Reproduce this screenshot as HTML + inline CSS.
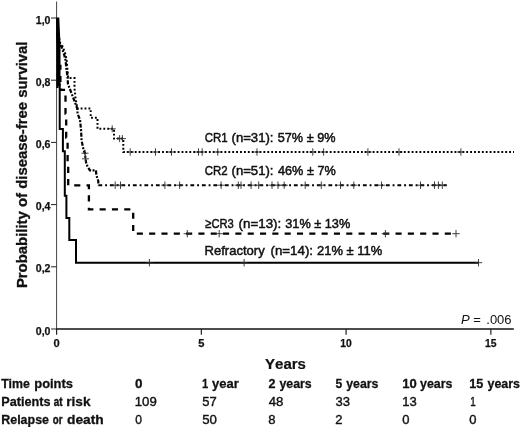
<!DOCTYPE html>
<html><head><meta charset="utf-8"><title>DFS</title>
<style>
html,body{margin:0;padding:0;background:#fff;}
body{width:520px;height:427px;overflow:hidden;font-family:"Liberation Sans",sans-serif;}
svg{display:block;will-change:transform;}
text{font-family:"Liberation Sans",sans-serif;fill:#111;}
.b{font-weight:bold;}
</style></head><body>
<svg width="520" height="427" viewBox="0 0 520 427">
<rect width="520" height="427" fill="#fff"/>

<path d="M56.6 1.5V329" stroke="#444" stroke-width="1" fill="none"/>
<path d="M56.1 329H513.8" stroke="#111" stroke-width="1.4" fill="none"/>
<path d="M51 329.0H56.6" stroke="#222" stroke-width="1"/>
<text class="b" x="50.5" y="334.5" font-size="11.1" text-anchor="end" textLength="14.7" lengthAdjust="spacingAndGlyphs" stroke="#111" stroke-width="0.25">0,0</text>
<path d="M51 266.8H56.6" stroke="#222" stroke-width="1"/>
<text class="b" x="50.5" y="272.3" font-size="11.1" text-anchor="end" textLength="14.7" lengthAdjust="spacingAndGlyphs" stroke="#111" stroke-width="0.25">0,2</text>
<path d="M51 204.6H56.6" stroke="#222" stroke-width="1"/>
<text class="b" x="50.5" y="210.1" font-size="11.1" text-anchor="end" textLength="14.7" lengthAdjust="spacingAndGlyphs" stroke="#111" stroke-width="0.25">0,4</text>
<path d="M51 142.4H56.6" stroke="#222" stroke-width="1"/>
<text class="b" x="50.5" y="147.9" font-size="11.1" text-anchor="end" textLength="14.7" lengthAdjust="spacingAndGlyphs" stroke="#111" stroke-width="0.25">0,6</text>
<path d="M51 80.2H56.6" stroke="#222" stroke-width="1"/>
<text class="b" x="50.5" y="85.7" font-size="11.1" text-anchor="end" textLength="14.7" lengthAdjust="spacingAndGlyphs" stroke="#111" stroke-width="0.25">0,8</text>
<path d="M51 18.0H56.6" stroke="#222" stroke-width="1"/>
<text class="b" x="50.5" y="23.5" font-size="11.1" text-anchor="end" textLength="14.7" lengthAdjust="spacingAndGlyphs" stroke="#111" stroke-width="0.25">1,0</text>
<path d="M56.6 329V334.8" stroke="#222" stroke-width="1.2"/>
<text class="b" x="56.6" y="347.3" font-size="11.1" text-anchor="middle" stroke="#111" stroke-width="0.25">0</text>
<path d="M201.35 329V334.8" stroke="#222" stroke-width="1.2"/>
<text class="b" x="201.35" y="347.3" font-size="11.1" text-anchor="middle" stroke="#111" stroke-width="0.25">5</text>
<path d="M346.1 329V334.8" stroke="#222" stroke-width="1.2"/>
<text class="b" x="346.1" y="347.3" font-size="11.1" text-anchor="middle" textLength="11.5" lengthAdjust="spacingAndGlyphs" stroke="#111" stroke-width="0.25">10</text>
<path d="M490.85 329V334.8" stroke="#222" stroke-width="1.2"/>
<text class="b" x="490.85" y="347.3" font-size="11.1" text-anchor="middle" textLength="11.5" lengthAdjust="spacingAndGlyphs" stroke="#111" stroke-width="0.25">15</text>
<text class="b" transform="translate(27.2,164.8) rotate(-90)" font-size="14.9" text-anchor="middle" stroke="#111" stroke-width="0.3">Probability of disease-free survival</text>
<path d="M56.3 17.4H59.3L59.8 30L60.5 44V86H58.6V88H56.3Z" fill="#000"/>
<polyline points="57.4,18 57.4,40.2 58.2,40.2 58.2,62.4 59,62.4 59,84.6 59.7,84.6 59.7,129.1 62.9,129.1 62.9,151.3 64.8,151.3 64.8,195.7 66.4,195.7 66.4,217.9 69.3,217.9 69.3,240.1 76,240.1 76,262.7 478.5,262.7" stroke="#000" stroke-width="2.0" fill="none"/>
<polyline points="57.6,18 57.6,41.9 58.8,41.9 58.8,65.8 60.4,65.8 60.4,89.8 65.5,89.8 65.5,113.7 66.2,113.7 66.2,137.6 67.6,137.6 67.6,161.5 68.2,161.5 68.2,185.4 88.9,185.4 88.9,209.3 133.2,209.3 133.2,233.7 456,233.7" stroke="#000" stroke-width="2.3" fill="none" stroke-dasharray="6.1 6.22" stroke-dashoffset="0.78"/>
<polyline points="57.3,18 58.4,35 59.6,44 61.8,47.4 64,54 65.5,60 66.5,69.5 67.7,78.4 67.9,83.8 77.3,108.5 77.6,113.8 80,119.7 81,129.5 81.6,140.4 83.5,149.8 85,153.2 85.5,158.8 86.4,164.5 89.9,170.4 96.0,170.4 96.3,175 98.3,181 98.3,185.2" stroke="#000" stroke-width="2.2" fill="none" stroke-dasharray="4.2 1.5 1.9 1.5" stroke-dashoffset="0.00"/>
<polyline points="98.3,185.2 446.8,185.2" stroke="#000" stroke-width="1.9" fill="none" stroke-dasharray="3.8 2.9 1.9 2.9" stroke-dashoffset="11.40"/>
<polyline points="57.3,18 58.4,35 60.2,43 62.8,46.6 65,53 66.6,59.5 67.4,69 68.2,78 74.5,78 74.5,88 75.5,98 77.3,108.6 90.7,108.6 90.7,117.7 97.5,117.7 97.5,128.8 114,128.8 114,138.6 123.3,138.6 123.3,152.0 514,152.0" stroke="#000" stroke-width="2.0" fill="none" stroke-dasharray="1.85 2.05" stroke-dashoffset="3.14"/>
<path d="M126.5 152.0H133.9M130.2 148.3V155.7" stroke="#2a2a2a" stroke-width="0.9" fill="none"/>
<path d="M151.8 152.0H159.2M155.5 148.3V155.7" stroke="#2a2a2a" stroke-width="0.9" fill="none"/>
<path d="M167.8 152.0H175.2M171.5 148.3V155.7" stroke="#2a2a2a" stroke-width="0.9" fill="none"/>
<path d="M194.8 152.0H202.2M198.5 148.3V155.7" stroke="#2a2a2a" stroke-width="0.9" fill="none"/>
<path d="M198.5 152.0H205.9M202.2 148.3V155.7" stroke="#2a2a2a" stroke-width="0.9" fill="none"/>
<path d="M214.1 152.0H221.5M217.8 148.3V155.7" stroke="#2a2a2a" stroke-width="0.9" fill="none"/>
<path d="M253.3 152.0H260.7M257.0 148.3V155.7" stroke="#2a2a2a" stroke-width="0.9" fill="none"/>
<path d="M309.1 152.0H316.5M312.8 148.3V155.7" stroke="#2a2a2a" stroke-width="0.9" fill="none"/>
<path d="M319.9 152.0H327.3M323.6 148.3V155.7" stroke="#2a2a2a" stroke-width="0.9" fill="none"/>
<path d="M364.2 152.0H371.6M367.9 148.3V155.7" stroke="#2a2a2a" stroke-width="0.9" fill="none"/>
<path d="M395.3 152.0H402.7M399.0 148.3V155.7" stroke="#2a2a2a" stroke-width="0.9" fill="none"/>
<path d="M457.2 152.0H464.6M460.9 148.3V155.7" stroke="#2a2a2a" stroke-width="0.9" fill="none"/>
<path d="M108.7 128.8H115.7M112.2 125.3V132.3" stroke="#2a2a2a" stroke-width="0.9" fill="none"/>
<path d="M116.1 138.6H123.1M119.6 135.1V142.1" stroke="#2a2a2a" stroke-width="0.9" fill="none"/>
<path d="M118.9 138.6H125.9M122.4 135.1V142.1" stroke="#2a2a2a" stroke-width="0.9" fill="none"/>
<path d="M111.5 185.2H118.9M115.2 181.5V188.9" stroke="#2a2a2a" stroke-width="0.9" fill="none"/>
<path d="M116.8 185.2H124.2M120.5 181.5V188.9" stroke="#2a2a2a" stroke-width="0.9" fill="none"/>
<path d="M161.2 185.2H168.6M164.9 181.5V188.9" stroke="#2a2a2a" stroke-width="0.9" fill="none"/>
<path d="M175.9 185.2H183.3M179.6 181.5V188.9" stroke="#2a2a2a" stroke-width="0.9" fill="none"/>
<path d="M217.4 185.2H224.8M221.1 181.5V188.9" stroke="#2a2a2a" stroke-width="0.9" fill="none"/>
<path d="M234.6 185.2H242.0M238.3 181.5V188.9" stroke="#2a2a2a" stroke-width="0.9" fill="none"/>
<path d="M237.3 185.2H244.7M241.0 181.5V188.9" stroke="#2a2a2a" stroke-width="0.9" fill="none"/>
<path d="M247.4 185.2H254.8M251.1 181.5V188.9" stroke="#2a2a2a" stroke-width="0.9" fill="none"/>
<path d="M255.0 185.2H262.4M258.7 181.5V188.9" stroke="#2a2a2a" stroke-width="0.9" fill="none"/>
<path d="M268.3 185.2H275.7M272.0 181.5V188.9" stroke="#2a2a2a" stroke-width="0.9" fill="none"/>
<path d="M274.3 185.2H281.7M278.0 181.5V188.9" stroke="#2a2a2a" stroke-width="0.9" fill="none"/>
<path d="M280.5 185.2H287.9M284.2 181.5V188.9" stroke="#2a2a2a" stroke-width="0.9" fill="none"/>
<path d="M301.5 185.2H308.9M305.2 181.5V188.9" stroke="#2a2a2a" stroke-width="0.9" fill="none"/>
<path d="M317.6 185.2H325.0M321.3 181.5V188.9" stroke="#2a2a2a" stroke-width="0.9" fill="none"/>
<path d="M336.8 185.2H344.2M340.5 181.5V188.9" stroke="#2a2a2a" stroke-width="0.9" fill="none"/>
<path d="M350.1 185.2H357.5M353.8 181.5V188.9" stroke="#2a2a2a" stroke-width="0.9" fill="none"/>
<path d="M377.8 185.2H385.2M381.5 181.5V188.9" stroke="#2a2a2a" stroke-width="0.9" fill="none"/>
<path d="M416.8 185.2H424.2M420.5 181.5V188.9" stroke="#2a2a2a" stroke-width="0.9" fill="none"/>
<path d="M430.8 185.2H438.2M434.5 181.5V188.9" stroke="#2a2a2a" stroke-width="0.9" fill="none"/>
<path d="M434.7 185.2H442.1M438.4 181.5V188.9" stroke="#2a2a2a" stroke-width="0.9" fill="none"/>
<path d="M438.6 185.2H446.0M442.3 181.5V188.9" stroke="#2a2a2a" stroke-width="0.9" fill="none"/>
<path d="M81.5 153.2H88.5M85.0 149.7V156.7" stroke="#2a2a2a" stroke-width="0.9" fill="none"/>
<path d="M82.0 158.8H89.0M85.5 155.3V162.3" stroke="#2a2a2a" stroke-width="0.9" fill="none"/>
<path d="M183.6 233.7H191.0M187.3 230.0V237.4" stroke="#2a2a2a" stroke-width="0.9" fill="none"/>
<path d="M215.5 233.7H222.9M219.2 230.0V237.4" stroke="#2a2a2a" stroke-width="0.9" fill="none"/>
<path d="M381.7 233.7H389.1M385.4 230.0V237.4" stroke="#2a2a2a" stroke-width="0.9" fill="none"/>
<path d="M452.3 233.7H459.7M456.0 230.0V237.4" stroke="#2a2a2a" stroke-width="0.9" fill="none"/>
<path d="M145.7 262.7H153.1M149.4 259.0V266.4" stroke="#2a2a2a" stroke-width="0.9" fill="none"/>
<path d="M240.4 262.7H247.8M244.1 259.0V266.4" stroke="#2a2a2a" stroke-width="0.9" fill="none"/>
<path d="M474.8 262.7H482.2M478.5 259.0V266.4" stroke="#2a2a2a" stroke-width="0.9" fill="none"/>
<text x="204.75" y="142.1" font-size="13.5" textLength="22.99" lengthAdjust="spacingAndGlyphs" stroke="#111" stroke-width="0.5">CR1</text>
<text x="231.5" y="142.1" font-size="13.5" textLength="42.01" lengthAdjust="spacingAndGlyphs" stroke="#111" stroke-width="0.5">(n=31):</text>
<text x="277.75" y="142.1" font-size="13.5" textLength="57.75" lengthAdjust="spacingAndGlyphs" stroke="#111" stroke-width="0.5">57% ± 9%</text>
<text x="204.75" y="175.2" font-size="13.5" textLength="22.99" lengthAdjust="spacingAndGlyphs" stroke="#111" stroke-width="0.5">CR2</text>
<text x="231.5" y="175.2" font-size="13.5" textLength="42.01" lengthAdjust="spacingAndGlyphs" stroke="#111" stroke-width="0.5">(n=51):</text>
<text x="278.0" y="175.2" font-size="13.5" textLength="57.75" lengthAdjust="spacingAndGlyphs" stroke="#111" stroke-width="0.5">46% ± 7%</text>
<text x="205.25" y="228.4" font-size="13.5" textLength="28.49" lengthAdjust="spacingAndGlyphs" stroke="#111" stroke-width="0.5">≥CR3</text>
<text x="238.5" y="228.4" font-size="13.5" textLength="42.78" lengthAdjust="spacingAndGlyphs" stroke="#111" stroke-width="0.5">(n=13):</text>
<text x="285.25" y="228.4" font-size="13.5" textLength="65.0" lengthAdjust="spacingAndGlyphs" stroke="#111" stroke-width="0.5">31% ± 13%</text>
<text x="204.5" y="254.9" font-size="13.5" textLength="60.25" lengthAdjust="spacingAndGlyphs" stroke="#111" stroke-width="0.5">Refractory</text>
<text x="270.5" y="254.9" font-size="13.5" textLength="42.53" lengthAdjust="spacingAndGlyphs" stroke="#111" stroke-width="0.5">(n=14):</text>
<text x="317.0" y="254.9" font-size="13.5" textLength="65.25" lengthAdjust="spacingAndGlyphs" stroke="#111" stroke-width="0.5">21% ± 11%</text>
<text class="b" style="font-kerning:none" x="265.0" y="369.3" font-size="15.4" textLength="40.99" lengthAdjust="spacingAndGlyphs" stroke="#111" stroke-width="0.2">Years</text>
<text class="b" x="1.25" y="387.7" font-size="13.5" textLength="28.49" lengthAdjust="spacingAndGlyphs" stroke="#111" stroke-width="0.3">Time</text>
<text class="b" x="34.25" y="387.7" font-size="13.5" textLength="38.76" lengthAdjust="spacingAndGlyphs" stroke="#111" stroke-width="0.3">points</text>
<text class="b" x="1.25" y="405.8" font-size="13.5" textLength="49.26" lengthAdjust="spacingAndGlyphs" stroke="#111" stroke-width="0.3">Patients</text>
<text class="b" x="53.75" y="405.8" font-size="13.5" textLength="8.73" lengthAdjust="spacingAndGlyphs" stroke="#111" stroke-width="0.45">at</text>
<text class="b" x="66.25" y="405.8" font-size="13.5" textLength="24.24" lengthAdjust="spacingAndGlyphs" stroke="#111" stroke-width="0.3">risk</text>
<text class="b" x="1.25" y="423.6" font-size="13.5" textLength="47.75" lengthAdjust="spacingAndGlyphs" stroke="#111" stroke-width="0.3">Relapse</text>
<text class="b" x="52.75" y="423.6" font-size="13.5" textLength="9.73" lengthAdjust="spacingAndGlyphs" stroke="#111" stroke-width="0.45">or</text>
<text class="b" x="67.0" y="423.6" font-size="13.5" textLength="36.76" lengthAdjust="spacingAndGlyphs" stroke="#111" stroke-width="0.3">death</text>
<text class="b" x="135.0" y="387.7" font-size="13.5" textLength="7.5" lengthAdjust="spacingAndGlyphs" stroke="#111" stroke-width="0.3">0</text>
<text class="b" x="202.0" y="387.7" font-size="13.5" textLength="6.22" lengthAdjust="spacingAndGlyphs" stroke="#111" stroke-width="0.3">1</text>
<text class="b" x="212.0" y="387.7" font-size="13.5" textLength="26.75" lengthAdjust="spacingAndGlyphs" stroke="#111" stroke-width="0.3">year</text>
<text class="b" x="268.5" y="387.7" font-size="13.5" textLength="6.97" lengthAdjust="spacingAndGlyphs" stroke="#111" stroke-width="0.3">2</text>
<text class="b" x="279.5" y="387.7" font-size="13.5" textLength="32.24" lengthAdjust="spacingAndGlyphs" stroke="#111" stroke-width="0.3">years</text>
<text class="b" x="335.5" y="387.7" font-size="13.5" textLength="6.71" lengthAdjust="spacingAndGlyphs" stroke="#111" stroke-width="0.3">5</text>
<text class="b" x="346.25" y="387.7" font-size="13.5" textLength="32.24" lengthAdjust="spacingAndGlyphs" stroke="#111" stroke-width="0.3">years</text>
<text class="b" x="402.25" y="387.7" font-size="13.5" textLength="14.52" lengthAdjust="spacingAndGlyphs" stroke="#111" stroke-width="0.3">10</text>
<text class="b" x="420.0" y="387.7" font-size="13.5" textLength="32.49" lengthAdjust="spacingAndGlyphs" stroke="#111" stroke-width="0.3">years</text>
<text class="b" x="469.25" y="387.7" font-size="13.5" textLength="14.0" lengthAdjust="spacingAndGlyphs" stroke="#111" stroke-width="0.3">15</text>
<text class="b" x="487.5" y="387.7" font-size="13.5" textLength="32.49" lengthAdjust="spacingAndGlyphs" stroke="#111" stroke-width="0.3">years</text>
<text x="134.75" y="405.8" font-size="13.5" textLength="22.02" lengthAdjust="spacingAndGlyphs" stroke="#111" stroke-width="0.4">109</text>
<text x="202.25" y="405.8" font-size="13.5" textLength="14.49" lengthAdjust="spacingAndGlyphs" stroke="#111" stroke-width="0.4">57</text>
<text x="268.75" y="405.8" font-size="13.5" textLength="14.73" lengthAdjust="spacingAndGlyphs" stroke="#111" stroke-width="0.4">48</text>
<text x="335.5" y="405.8" font-size="13.5" textLength="14.49" lengthAdjust="spacingAndGlyphs" stroke="#111" stroke-width="0.4">33</text>
<text x="402.25" y="405.8" font-size="13.5" textLength="14.52" lengthAdjust="spacingAndGlyphs" stroke="#111" stroke-width="0.4">13</text>
<text x="470.25" y="405.8" font-size="13.5" textLength="5.5" lengthAdjust="spacingAndGlyphs" stroke="#111" stroke-width="0.4">1</text>
<text x="135.25" y="423.6" font-size="13.5" textLength="6.71" lengthAdjust="spacingAndGlyphs" stroke="#111" stroke-width="0.4">0</text>
<text x="202.25" y="423.6" font-size="13.5" textLength="14.73" lengthAdjust="spacingAndGlyphs" stroke="#111" stroke-width="0.4">50</text>
<text x="268.25" y="423.6" font-size="13.5" textLength="7.25" lengthAdjust="spacingAndGlyphs" stroke="#111" stroke-width="0.4">8</text>
<text x="335.25" y="423.6" font-size="13.5" textLength="7.25" lengthAdjust="spacingAndGlyphs" stroke="#111" stroke-width="0.4">2</text>
<text x="402.25" y="423.6" font-size="13.5" textLength="7.22" lengthAdjust="spacingAndGlyphs" stroke="#111" stroke-width="0.4">0</text>
<text x="469.25" y="423.6" font-size="13.5" textLength="7.22" lengthAdjust="spacingAndGlyphs" stroke="#111" stroke-width="0.4">0</text>
<text x="460.9" y="324.4" font-size="13"><tspan font-style="italic">P</tspan> =</text>
<text x="511.6" y="324.4" font-size="13" text-anchor="end">.006</text>
</svg></body></html>
